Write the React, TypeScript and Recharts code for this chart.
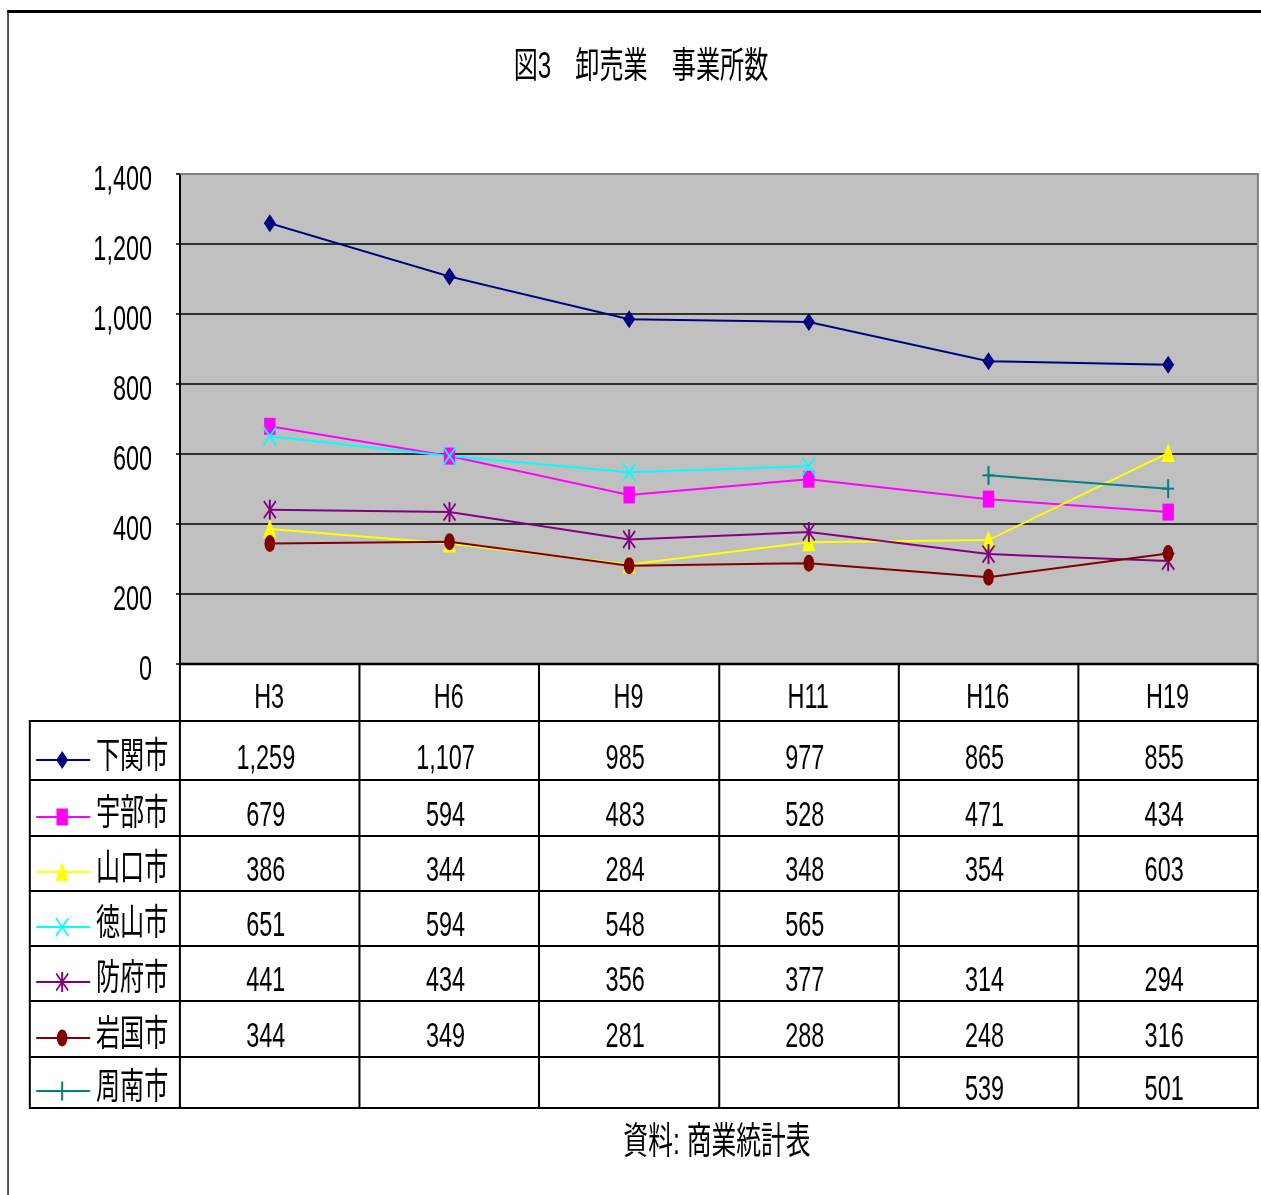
import { LineChart, Line, XAxis, YAxis, CartesianGrid } from 'recharts';

// the original picture is squeezed horizontally, so the whole page is drawn
// wide and then scaled on x
const S = 0.67;
const X = (px: number) => px / S;

const FONT = '"Liberation Sans", Arial, "Noto Sans CJK JP", sans-serif';

const categories = ['H3', 'H6', 'H9', 'H11', 'H16', 'H19'];
const yTicks = [0, 200, 400, 600, 800, 1000, 1200, 1400];

const shimonoseki = [1259, 1107, 985, 977, 865, 855];
const ube = [679, 594, 483, 528, 471, 434];
const yamaguchi = [386, 344, 284, 348, 354, 603];
const tokuyama = [651, 594, 548, 565, null, null];
const hofu = [441, 434, 356, 377, 314, 294];
const iwakuni = [344, 349, 281, 288, 248, 316];
const shunan = [null, null, null, null, 539, 501];

type Kind = 'diamond' | 'square' | 'triangle' | 'x' | 'star' | 'circle' | 'plus';

const SERIES: { name: string; values: (number | null)[]; color: string; kind: Kind }[] = [
  { name: '下関市', values: shimonoseki, color: '#000080', kind: 'diamond' },
  { name: '宇部市', values: ube, color: '#FF00FF', kind: 'square' },
  { name: '山口市', values: yamaguchi, color: '#FFFF00', kind: 'triangle' },
  { name: '徳山市', values: tokuyama, color: '#00FFFF', kind: 'x' },
  { name: '防府市', values: hofu, color: '#800080', kind: 'star' },
  { name: '岩国市', values: iwakuni, color: '#800000', kind: 'circle' },
  { name: '周南市', values: shunan, color: '#008080', kind: 'plus' },
];

const data = categories.map((cat, i) => {
  const row: Record<string, string | number | null> = { cat };
  SERIES.forEach((s, k) => {
    row[`s${k}`] = s.values[i];
  });
  return row;
});

// layout in reference pixels
const W = 1261;
const H = 1195;
const PLOT_LEFT = 180;
const PLOT_RIGHT = 1258;
const PLOT_TOP = 174;
const PLOT_BOTTOM = 664;
const HEADER_BOTTOM = 721;
const ROW_LINES = [721, 780, 835.5, 890.5, 945.5, 1001, 1056.5, 1108];
const BAND = (PLOT_RIGHT - PLOT_LEFT) / categories.length;
const colX = (i: number) => PLOT_LEFT + i * BAND;

function Marker({ kind, cx, cy, color }: { kind: Kind; cx: number; cy: number; color: string }) {
  switch (kind) {
    case 'diamond':
      return <polygon points={`${cx},${cy - 9} ${cx + 9},${cy} ${cx},${cy + 9} ${cx - 9},${cy}`} fill={color} />;
    case 'square':
      return <rect x={cx - 8.5} y={cy - 8.5} width={17} height={17} fill={color} />;
    case 'triangle':
      return <polygon points={`${cx},${cy - 10} ${cx + 10},${cy + 9} ${cx - 10},${cy + 9}`} fill={color} />;
    case 'x':
      return (
        <g stroke={color} strokeWidth={2.2}>
          <line x1={cx - 9.5} y1={cy - 9} x2={cx + 9.5} y2={cy + 9} />
          <line x1={cx - 9.5} y1={cy + 9} x2={cx + 9.5} y2={cy - 9} />
        </g>
      );
    case 'star':
      return (
        <g stroke={color} strokeWidth={2.2}>
          <line x1={cx - 9} y1={cy - 8.5} x2={cx + 9} y2={cy + 8.5} />
          <line x1={cx - 9} y1={cy + 8.5} x2={cx + 9} y2={cy - 8.5} />
          <line x1={cx} y1={cy - 10} x2={cx} y2={cy + 10} strokeWidth={3} />
        </g>
      );
    case 'circle':
      return <ellipse cx={cx} cy={cy} rx={8} ry={8.5} fill={color} />;
    case 'plus':
      return (
        <g stroke={color} strokeWidth={2}>
          <line x1={cx - 9} y1={cy} x2={cx + 9} y2={cy} />
          <line x1={cx} y1={cy - 9.5} x2={cx} y2={cy + 9.5} strokeWidth={3} />
        </g>
      );
  }
}

const renderDot = (kind: Kind, color: string) => (props: any) => {
  const { cx, cy, index, value } = props;
  if (cx == null || cy == null || value == null) return <g key={`d-${index}`} />;
  return (
    <g key={`d-${index}`}>
      <Marker kind={kind} cx={cx} cy={cy} color={color} />
    </g>
  );
};

const YTick = (props: any) => {
  const { x, y, payload } = props;
  return (
    <text x={x} y={y + 16} textAnchor="end" fontSize={35} fontFamily={FONT} fill="#000">
      {Number(payload.value).toLocaleString('en-US')}
    </text>
  );
};

const XTick = (props: any) => {
  const { x, y, payload } = props;
  return (
    <text x={x - 1} y={y + 44} textAnchor="middle" fontSize={35} fontFamily={FONT} fill="#000">
      {payload.value}
    </text>
  );
};

function HLine({ x1, x2, y, w = 2, color = '#000' }: { x1: number; x2: number; y: number; w?: number; color?: string }) {
  return (
    <div
      style={{ position: 'absolute', left: X(x1), width: X(x2 - x1), top: y - w / 2, height: w, background: color }}
    />
  );
}

function VLine({ x, y1, y2, w = 2, color = '#000' }: { x: number; y1: number; y2: number; w?: number; color?: string }) {
  return (
    <div
      style={{ position: 'absolute', left: X(x - w / 2), width: X(w), top: y1, height: y2 - y1, background: color }}
    />
  );
}

function Label({
  cx,
  cy,
  size = 35,
  align = 'center',
  children,
}: {
  cx: number;
  cy: number;
  size?: number;
  align?: 'center' | 'left';
  children: React.ReactNode;
}) {
  const left = align === 'center' ? X(cx) - 400 : X(cx);
  return (
    <div
      style={{
        position: 'absolute',
        left,
        width: 800,
        top: cy - 30,
        height: 60,
        display: 'flex',
        alignItems: 'center',
        justifyContent: align === 'center' ? 'center' : 'flex-start',
        fontSize: size,
        lineHeight: 1,
        fontFamily: FONT,
        color: '#000',
        whiteSpace: 'pre',
      }}
    >
      {children}
    </div>
  );
}

export default function App() {
  return (
    <div style={{ position: 'absolute', left: 0, top: 0, width: W, height: H, overflow: 'hidden', background: '#fff' }}>
      <div
        style={{
          position: 'absolute',
          left: 0,
          top: 0,
          width: X(W),
          height: H,
          transform: `scaleX(${S})`,
          transformOrigin: '0 0',
        }}
      >
        {/* outer frame */}
        <div
          style={{
            position: 'absolute',
            left: X(7.5),
            top: 10,
            width: X(W),
            height: H,
            borderTop: '3px solid #000',
            borderLeft: `${X(2)}px solid #000`,
          }}
        />

        <Label cx={641} cy={66} size={36}>
          図3　卸売業　事業所数
        </Label>

        <div style={{ position: 'absolute', left: 0, top: 0 }}>
          <LineChart
            width={X(W)}
            height={H}
            data={data}
            margin={{ top: PLOT_TOP, right: X(W - PLOT_RIGHT), bottom: H - HEADER_BOTTOM, left: 0 }}
          >
            <CartesianGrid
              vertical={false}
              stroke="#000"
              strokeWidth={1.5}
              fill="#C0C0C0"
              fillOpacity={1}
            />
            <XAxis
              dataKey="cat"
              type="category"
              padding={{ left: X(BAND / 2), right: X(BAND / 2) }}
              height={HEADER_BOTTOM - PLOT_BOTTOM}
              axisLine={{ stroke: '#000', strokeWidth: 2.5 }}
              tickLine={false}
              tickSize={0}
              tickMargin={0}
              interval={0}
              tick={<XTick />}
            />
            <YAxis
              domain={[0, 1400]}
              ticks={yTicks}
              interval={0}
              width={X(PLOT_LEFT)}
              axisLine={{ stroke: '#000', strokeWidth: 3 }}
              tickLine={{ stroke: '#000', strokeWidth: 1.5 }}
              tickSize={X(4)}
              tickMargin={X(24)}
              tick={<YTick />}
            />
            {SERIES.map((s, k) => (
              <Line
                key={s.name}
                dataKey={`s${k}`}
                name={s.name}
                stroke={s.color}
                strokeWidth={2}
                dot={renderDot(s.kind, s.color)}
                activeDot={false}
                connectNulls={false}
                isAnimationActive={false}
              />
            ))}
          </LineChart>
        </div>

        {/* plot area border */}
        <HLine x1={PLOT_LEFT} x2={PLOT_RIGHT + 1} y={PLOT_TOP} w={2} color="#808080" />
        <VLine x={PLOT_RIGHT} y1={PLOT_TOP} y2={PLOT_BOTTOM} w={2} color="#808080" />

        {/* data table grid */}
        {ROW_LINES.map((y) => (
          <HLine key={`h${y}`} x1={30} x2={PLOT_RIGHT + 1} y={y} />
        ))}
        <VLine x={30} y1={HEADER_BOTTOM - 1} y2={ROW_LINES[ROW_LINES.length - 1] + 1} />
        {categories.map((c, i) => (
          <VLine key={`v${c}`} x={colX(i)} y1={PLOT_BOTTOM} y2={ROW_LINES[ROW_LINES.length - 1] + 1} />
        ))}
        <VLine x={PLOT_RIGHT} y1={PLOT_BOTTOM} y2={ROW_LINES[ROW_LINES.length - 1] + 1} />

        {/* legend keys and values */}
        {SERIES.map((s, r) => {
          const mid = (ROW_LINES[r] + ROW_LINES[r + 1]) / 2;
          return (
            <div key={s.name}>
              <svg
                style={{ position: 'absolute', left: X(36), top: mid + 9 - 15, overflow: 'visible' }}
                width={X(54)}
                height={30}
              >
                <line x1={0} y1={15} x2={X(54)} y2={15} stroke={s.color} strokeWidth={2} />
                <Marker kind={s.kind} cx={X(26)} cy={15} color={s.color} />
              </svg>
              <Label cx={96} cy={mid + 5} size={36} align="left">
                {s.name}
              </Label>
              {s.values.map((v, i) => (
                <Label key={`${s.name}-${i}`} cx={colX(i) + BAND / 2 - 4} cy={mid + 5.5}>
                  {v == null ? '' : v.toLocaleString('en-US')}
                </Label>
              ))}
            </div>
          );
        })}

        <Label cx={717} cy={1141} size={37}>
          資料: 商業統計表
        </Label>
      </div>
    </div>
  );
}
